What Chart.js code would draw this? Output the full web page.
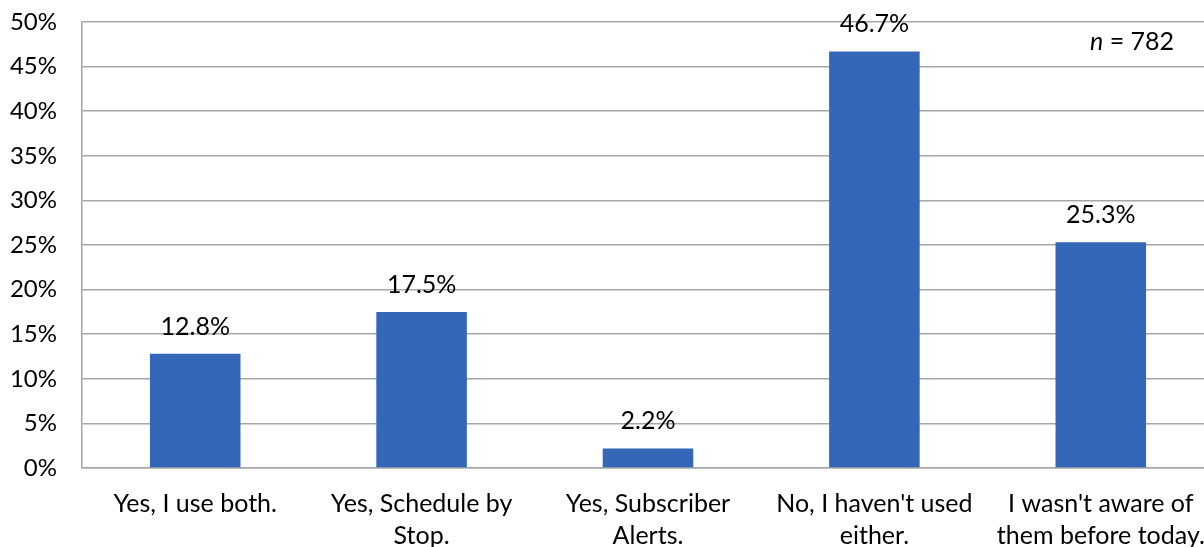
<!DOCTYPE html>
<html><head><meta charset="utf-8">
<script src="https://cdn.jsdelivr.net/npm/chart.js@4"></script>
<style>html,body{margin:0;padding:0;background:#fff;overflow:hidden}#wrap{width:1214px;height:547px}</style>
</head><body><div id="wrap"><canvas id="c" width="1214" height="547"></canvas></div>
<script>
const categories = [["Yes, I use both."],["Yes, Schedule by","Stop."],["Yes, Subscriber","Alerts."],["No, I haven't used","either."],["I wasn't aware of","them before today."]];
const values = [12.8, 17.5, 2.2, 46.7, 25.3];
const valueLabels = ["12.8%","17.5%","2.2%","46.7%","25.3%"];
const yTicks = [0,5,10,15,20,25,30,35,40,45,50];
const note = "782";
const FONT = "Lato, 'Open Sans', sans-serif";

const labelPlugin = {
  id: 'vals',
  afterDatasetsDraw(chart) {
    const ctx = chart.ctx;
    const meta = chart.getDatasetMeta(0);
    ctx.save();
    ctx.font = "25px " + FONT;
    ctx.fillStyle = "#000";
    ctx.textAlign = "center";
    ctx.textBaseline = "middle";
    meta.data.forEach((bar, i) => {
      ctx.fillText(valueLabels[i], bar.x, bar.y - 27);
    });
    ctx.textAlign = "left";
    const y = 42;
    ctx.font = "italic 25px " + FONT;
    let x = 1090;
    ctx.fillText("n", x, y);
    x += ctx.measureText("n").width;
    ctx.font = "25px " + FONT;
    ctx.fillText(" = " + note, x, y);
    ctx.restore();
  }
};

new Chart(document.getElementById('c'), {
  type: 'bar',
  data: { labels: categories, datasets: [{ data: values, backgroundColor: '#3567b9', barPercentage: 0.4, categoryPercentage: 1.0 }] },
  options: {
    responsive: false, animation: false,
    layout: { padding: { top: 22, right: 0, left: 0, bottom: 0 } },
    plugins: { legend: { display: false }, tooltip: { enabled: false } },
    scales: {
      y: {
        min: 0, max: 50,
        afterBuildTicks(s) { s.ticks = yTicks.map(v => ({ value: v })); },
        afterFit(s) { s.width = 82; s.paddingTop = 0; s.paddingBottom = 0; },
        ticks: { callback: v => v + '%', color: '#000', font: { family: FONT, size: 24 }, padding: 25 },
        grid: { color: '#a6a6a6', lineWidth: 1.5, drawTicks: false },
        border: { display: true, color: '#a6a6a6', width: 1.5 }
      },
      x: {
        afterFit(s) { s.height = 79; s.paddingLeft = 0; s.paddingRight = 0; },
        ticks: { color: '#000', font: { family: FONT, size: 25, lineHeight: 1.28 }, padding: 20, maxRotation: 0, autoSkip: false },
        grid: { display: false, drawTicks: false },
        border: { display: true, color: '#a6a6a6', width: 1.5 }
      }
    }
  },
  plugins: [labelPlugin]
});
</script></body></html>
